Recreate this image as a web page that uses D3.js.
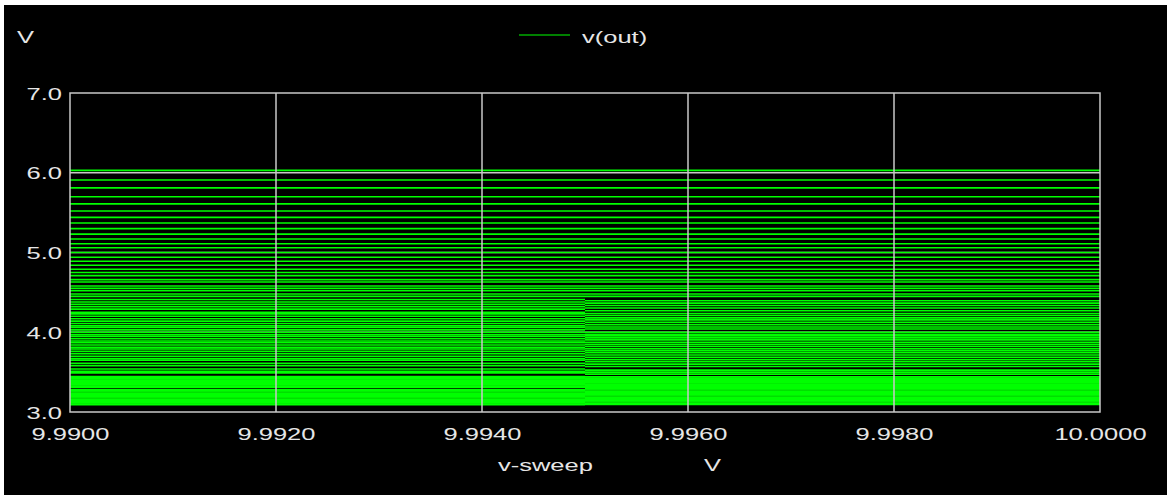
<!DOCTYPE html>
<html>
<head>
<meta charset="utf-8">
<script src="https://cdn.jsdelivr.net/npm/d3@7"></script>
<style>
  html, body { margin: 0; padding: 0; background: #ffffff; }
  svg { display: block; }
  text { font-family: "Liberation Sans", Arial, sans-serif; font-size: 17px; fill: #e6e6e6; }
</style>
</head>
<body>
<svg id="chart" width="1167" height="495"></svg>
<script>
// Sweep axis (v-sweep) ticks and labels
const xTicks = [9.990, 9.992, 9.994, 9.996, 9.998, 10.000];
const xTickLabels = ["9.9900", "9.9920", "9.9940", "9.9960", "9.9980", "10.0000"];
// Output axis ticks and labels
const yTicks = [3, 4, 5, 6, 7];
const yTickLabels = ["3.0", "4.0", "5.0", "6.0", "7.0"];

// Sweep points: each trace holds one level up to the step, another after it
const sweepStart = 9.990;
const sweepStep = 9.995;
const sweepEnd = 10.000;

// v(out) of every stepped trace before the step at 9.995 V
const voutBefore = [
  6.03, 5.91, 5.81, 5.70, 5.61, 5.52, 5.44, 5.37, 5.30, 5.23,
  5.17, 5.11, 5.06, 5.00, 4.94, 4.89, 4.84, 4.79, 4.75, 4.71,
  4.66, 4.63, 4.58, 4.55, 4.52, 4.48, 4.45,
  4.41, 4.38, 4.35, 4.32, 4.29, 4.25, 4.23, 4.20, 4.17, 4.14,
  4.11, 4.08, 4.06, 4.03, 4.00, 3.97, 3.95, 3.92, 3.89, 3.87,
  3.84, 3.81, 3.79, 3.76, 3.73, 3.70, 3.67, 3.65, 3.61, 3.58,
  3.54, 3.51, 3.49,
  3.445, 3.43, 3.415, 3.40, 3.385, 3.37, 3.355, 3.34, 3.325, 3.31,
  3.28, 3.265, 3.25, 3.235, 3.22, 3.205, 3.19, 3.175, 3.16, 3.145,
  3.13, 3.115, 3.10, 3.09
];

// v(out) of the same traces after the step
const voutAfter = [
  6.03, 5.91, 5.81, 5.70, 5.61, 5.52, 5.44, 5.37, 5.30, 5.23,
  5.17, 5.11, 5.06, 5.00, 4.94, 4.89, 4.84, 4.79, 4.75, 4.71,
  4.66, 4.63, 4.58, 4.55, 4.52, 4.48, 4.45,
  4.395, 4.365, 4.335, 4.305, 4.27, 4.235, 4.21, 4.18, 4.155, 4.125,
  4.095, 4.065, 4.04, 4.00, 3.975, 3.955, 3.93, 3.905, 3.875, 3.85,
  3.825, 3.795, 3.77, 3.745, 3.715, 3.685, 3.655, 3.63, 3.60, 3.57,
  3.525, 3.50, 3.475,
  3.44, 3.425, 3.41, 3.395, 3.38, 3.365, 3.35, 3.335, 3.32, 3.305,
  3.29, 3.275, 3.26, 3.245, 3.23, 3.215, 3.20, 3.185, 3.17, 3.155,
  3.14, 3.125, 3.11, 3.095
];

const W = 1167, H = 495;
const plot = { left: 70, right: 1100, top: 93, bottom: 412 };
const stretch = 1.5;           // wide screen glyphs
const gridColor = "#c8c8c8";
const traceColor = "#00ff00";

const svg = d3.select("#chart");

// dark canvas
svg.append("rect").attr("x", 4).attr("y", 5).attr("width", W - 4).attr("height", H - 5).attr("fill", "#000");

const x = d3.scaleLinear().domain([sweepStart, sweepEnd]).range([plot.left, plot.right]);
const y = d3.scaleLinear().domain([3, 7]).range([plot.bottom, plot.top]);

// horizontal grid under the traces
svg.append("g").selectAll("line")
  .data(yTicks.slice(1, -1))
  .join("line")
  .attr("x1", plot.left).attr("x2", plot.right)
  .attr("y1", d => y(d)).attr("y2", d => y(d))
  .attr("stroke", gridColor).attr("stroke-width", 1.5);

// traces: one segment before the step, one after it
const segments = [];
voutBefore.forEach((v, i) => {
  segments.push([[sweepStart, v], [sweepStep, v]]);
  segments.push([[sweepStep, voutAfter[i]], [sweepEnd, voutAfter[i]]]);
});
const line = d3.line().x(d => x(d[0])).y(d => y(d[1]));
svg.append("g").selectAll("path")
  .data(segments)
  .join("path")
  .attr("d", line)
  .attr("fill", "none")
  .attr("stroke", traceColor)
  .attr("stroke-width", 1.6);

// vertical grid over the traces
svg.append("g").selectAll("line")
  .data(xTicks.slice(1, -1))
  .join("line")
  .attr("x1", d => x(d)).attr("x2", d => x(d))
  .attr("y1", plot.top).attr("y2", plot.bottom)
  .attr("stroke", gridColor).attr("stroke-width", 1.5);

// frame
svg.append("rect")
  .attr("x", plot.left).attr("y", plot.top)
  .attr("width", plot.right - plot.left).attr("height", plot.bottom - plot.top)
  .attr("fill", "none").attr("stroke", gridColor).attr("stroke-width", 1.5);

// axes
const xAxis = d3.axisBottom(x).tickValues(xTicks).tickFormat((d, i) => xTickLabels[i]).tickSize(0).tickPadding(16);
const gx = svg.append("g").attr("transform", `translate(0,${plot.bottom})`).call(xAxis);
gx.select(".domain").remove();
gx.selectAll("text").attr("transform", `scale(${stretch},1)`);

const yAxis = d3.axisLeft(y).tickValues(yTicks).tickFormat((d, i) => yTickLabels[i]).tickSize(0);
const gy = svg.append("g").attr("transform", `translate(${plot.left},0)`).call(yAxis);
gy.select(".domain").remove();
gy.selectAll("text").attr("x", -8 / stretch).attr("dy", "0.36em").attr("transform", `scale(${stretch},1)`);

[gx, gy].forEach(g => g.attr("font-family", null).attr("font-size", null));

function label(txt, px, py, anchor) {
  svg.append("text")
    .attr("transform", `translate(${px},${py}) scale(${stretch},1)`)
    .attr("text-anchor", anchor || "start")
    .text(txt);
}

// unit of the vertical axis
label("V", 17, 43);
// legend
svg.append("line").attr("x1", 519).attr("x2", 570).attr("y1", 35).attr("y2", 35)
  .attr("stroke", traceColor).attr("stroke-width", 1.2);
label("v(out)", 582, 43);
// horizontal axis title
label("v-sweep", 498, 471);
label("V", 704, 471);
</script>
</body>
</html>
